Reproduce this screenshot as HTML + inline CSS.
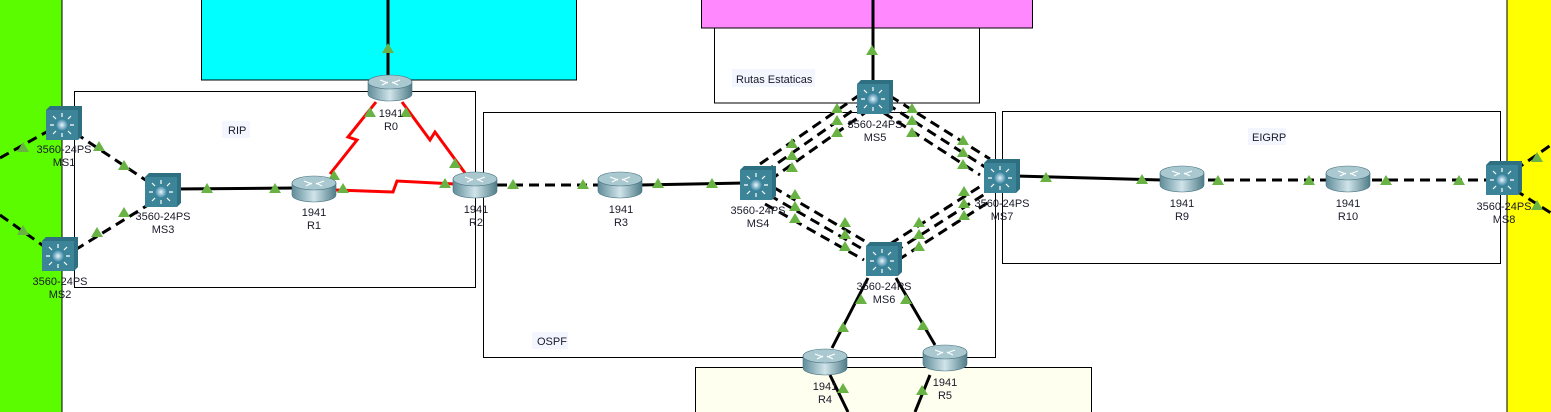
<!DOCTYPE html>
<html><head><meta charset="utf-8"><style>
html,body{margin:0;padding:0;background:#fff;width:1551px;height:412px;overflow:hidden}
svg text{font-family:"Liberation Sans",sans-serif;font-size:11px;fill:#1a1a2a}
</style></head><body>
<svg width="1551" height="412" viewBox="0 0 1551 412" xmlns="http://www.w3.org/2000/svg">
<defs>
<linearGradient id="rg" x1="0" x2="1"><stop offset="0" stop-color="#5f8c99"/><stop offset=".5" stop-color="#d0e4ea"/><stop offset="1" stop-color="#4f7c88"/></linearGradient>
<radialGradient id="bl"><stop offset="0" stop-color="#e8f6ff"/><stop offset="1" stop-color="#2a7a96"/></radialGradient>
<symbol id="rt" viewBox="0 0 44 28" overflow="visible">
<path d="M0 8 V20 A22 7 0 0 0 44 20 V8 Z" fill="url(#rg)" stroke="#4a7480" stroke-width=".6"/>
<ellipse cx="22" cy="8" rx="22" ry="7" fill="#a9c8d0" stroke="#4a7480" stroke-width=".6"/>
<path d="M12 6 L20 9 M32 6 L24 9 M14 11 L20 8 M30 11 L24 8" stroke="#fff" stroke-width="1.2"/>
</symbol>
<symbol id="sw" viewBox="0 0 36 36" overflow="visible">
<path d="M0 4 L4 0 H36 V30 L32 34 Z" fill="#2f6f82"/>
<rect x="0" y="4" width="32" height="30" fill="#3c8599"/>
<circle cx="16" cy="19" r="6.5" fill="url(#bl)"/>
<path d="M16 7 V11 M16 27 V31 M4 19 H8 M24 19 H28 M7 10 L10 13 M25 10 L22 13 M7 28 L10 25 M25 28 L22 25" stroke="#fff" stroke-width="1.2"/>
</symbol>
<symbol id="tr" viewBox="0 0 12 10" overflow="visible"><path d="M6 0 L12 10 H0 Z" fill="#69b345"/></symbol>
</defs>

<rect x="0" y="0" width="62" height="412" fill="#5cfc00"/>
<line x1="62" y1="0" x2="62" y2="412" stroke="#000"/>
<rect x="1507" y="0" width="44" height="412" fill="#ffff00"/>
<line x1="1507" y1="0" x2="1507" y2="412" stroke="#000"/>
<rect x="201.5" y="-1" width="375" height="81" fill="#00ffff" stroke="#000"/>
<rect x="714.5" y="-1" width="265" height="104" fill="#fff" stroke="#000"/>
<rect x="701.5" y="-1" width="331" height="29" fill="#ff88ff" stroke="#000"/>
<rect x="695.5" y="367.5" width="396" height="50" fill="#fffff0" stroke="#000"/>
<rect x="74.5" y="91.5" width="401" height="196" fill="none" stroke="#000"/>
<rect x="483.5" y="112.5" width="512" height="245" fill="none" stroke="#000"/>
<rect x="1002.5" y="111.5" width="498" height="152" fill="none" stroke="#000"/>
<rect x="222" y="121" width="28" height="17" fill="#f4f6ff"/><text x="228" y="134">RIP</text>
<rect x="732" y="69" width="83" height="18" fill="#f4f6ff"/><text x="736" y="83">Rutas Estaticas</text>
<rect x="532" y="332" width="36" height="17" fill="#f4f6ff"/><text x="537" y="345">OSPF</text>
<rect x="1248" y="128" width="38" height="17" fill="#f4f6ff"/><text x="1252" y="141">EIGRP</text>

<g stroke="#000" stroke-width="3" fill="none">
<line x1="388" y1="0" x2="388" y2="76"/>
<line x1="873" y1="0" x2="873" y2="82"/>
<g stroke-dasharray="10,6">
<line x1="0" y1="158" x2="50" y2="130"/>
<line x1="0" y1="215" x2="45" y2="247"/>
<line x1="75" y1="133" x2="150" y2="183"/>
<line x1="75" y1="250" x2="148" y2="205"/>
<line x1="497" y1="185" x2="600" y2="185"/>
<line x1="1208" y1="180" x2="1328" y2="180"/>
<line x1="1372" y1="180" x2="1490" y2="180"/>
<line x1="1515" y1="170" x2="1551" y2="145"/>
<line x1="1515" y1="190" x2="1551" y2="213"/>
<line x1="760" y1="164" x2="858" y2="96"/><line x1="765" y1="172" x2="862" y2="104"/><line x1="770" y1="180" x2="866" y2="112"/>
<line x1="890" y1="96" x2="990" y2="159"/><line x1="887" y1="104" x2="985" y2="167"/><line x1="884" y1="113" x2="980" y2="175"/>
<line x1="773" y1="187" x2="868" y2="243"/><line x1="769" y1="195" x2="866" y2="251"/><line x1="765" y1="204" x2="864" y2="260"/>
<line x1="890" y1="244" x2="984" y2="184"/><line x1="894" y1="252" x2="988" y2="192"/><line x1="898" y1="260" x2="992" y2="200"/>
</g>
<line x1="175" y1="189" x2="295" y2="188"/>
<line x1="640" y1="185" x2="745" y2="183"/>
<line x1="1015" y1="176" x2="1162" y2="180"/>
<line x1="868" y1="278" x2="832" y2="348"/>
<line x1="896" y1="278" x2="935" y2="345"/>
<line x1="830" y1="375" x2="848" y2="412"/>
<line x1="930" y1="375" x2="915" y2="412"/>
</g>
<g stroke="#f00" stroke-width="3" fill="none">
<path d="M330 174 L357 140 L348 137 L376 102"/>
<path d="M402 102 L430 140 L435 132 L465 173"/>
<path d="M336 190 L393 192 L397 181 L455 184"/>
</g>

<g>
<use href="#tr" x="17" y="142" width="12" height="10"/><use href="#tr" x="17" y="225" width="12" height="10"/>
<use href="#tr" x="93" y="141" width="12" height="10"/><use href="#tr" x="118" y="160" width="12" height="10"/>
<use href="#tr" x="118" y="207" width="12" height="10"/><use href="#tr" x="91" y="227" width="12" height="10"/>
<use href="#tr" x="201" y="183" width="12" height="10"/><use href="#tr" x="269" y="183" width="12" height="10"/>
<use href="#tr" x="328" y="170" width="12" height="10"/><use href="#tr" x="337" y="183" width="12" height="10"/>
<use href="#tr" x="364" y="107" width="12" height="10"/><use href="#tr" x="400" y="107" width="12" height="10"/>
<use href="#tr" x="382" y="43" width="12" height="10"/><use href="#tr" x="449" y="158" width="12" height="10"/>
<use href="#tr" x="439" y="178" width="12" height="10"/><use href="#tr" x="507" y="179" width="12" height="10"/>
<use href="#tr" x="577" y="179" width="12" height="10"/><use href="#tr" x="652" y="178" width="12" height="10"/>
<use href="#tr" x="706" y="178" width="12" height="10"/>
<use href="#tr" x="866" y="45" width="12" height="10"/>
<use href="#tr" x="786" y="138" width="12" height="10"/><use href="#tr" x="786" y="150" width="12" height="10"/><use href="#tr" x="786" y="162" width="12" height="10"/>
<use href="#tr" x="831" y="103" width="12" height="10"/><use href="#tr" x="831" y="115" width="12" height="10"/><use href="#tr" x="831" y="127" width="12" height="10"/>
<use href="#tr" x="906" y="103" width="12" height="10"/><use href="#tr" x="906" y="115" width="12" height="10"/><use href="#tr" x="906" y="127" width="12" height="10"/>
<use href="#tr" x="957" y="135" width="12" height="10"/><use href="#tr" x="957" y="147" width="12" height="10"/><use href="#tr" x="957" y="159" width="12" height="10"/>
<use href="#tr" x="789" y="189" width="12" height="10"/><use href="#tr" x="789" y="201" width="12" height="10"/><use href="#tr" x="789" y="213" width="12" height="10"/>
<use href="#tr" x="839" y="217" width="12" height="10"/><use href="#tr" x="839" y="229" width="12" height="10"/><use href="#tr" x="839" y="241" width="12" height="10"/>
<use href="#tr" x="913" y="217" width="12" height="10"/><use href="#tr" x="913" y="229" width="12" height="10"/><use href="#tr" x="913" y="241" width="12" height="10"/>
<use href="#tr" x="958" y="186" width="12" height="10"/><use href="#tr" x="958" y="198" width="12" height="10"/><use href="#tr" x="958" y="210" width="12" height="10"/>
<use href="#tr" x="855" y="294" width="12" height="10"/><use href="#tr" x="837" y="322" width="12" height="10"/>
<use href="#tr" x="900" y="294" width="12" height="10"/><use href="#tr" x="917" y="320" width="12" height="10"/>
<use href="#tr" x="837" y="383" width="12" height="10"/><use href="#tr" x="916" y="385" width="12" height="10"/>
<use href="#tr" x="1040" y="172" width="12" height="10"/><use href="#tr" x="1136" y="174" width="12" height="10"/>
<use href="#tr" x="1212" y="175" width="12" height="10"/><use href="#tr" x="1303" y="175" width="12" height="10"/>
<use href="#tr" x="1380" y="175" width="12" height="10"/><use href="#tr" x="1453" y="175" width="12" height="10"/>
<use href="#tr" x="1531" y="152" width="12" height="10"/><use href="#tr" x="1531" y="200" width="12" height="10"/>
</g>

<use href="#sw" x="46" y="106" width="36" height="36"/>
<use href="#sw" x="42" y="237" width="36" height="36"/>
<use href="#sw" x="145" y="173" width="36" height="36"/>
<use href="#rt" x="292" y="175" width="44" height="28"/>
<use href="#rt" x="368" y="74" width="44" height="28"/>
<use href="#rt" x="453" y="171" width="44" height="28"/>
<use href="#rt" x="598" y="171" width="44" height="28"/>
<use href="#sw" x="740" y="166" width="36" height="36"/>
<use href="#sw" x="857" y="80" width="36" height="36"/>
<use href="#sw" x="866" y="242" width="36" height="36"/>
<use href="#sw" x="984" y="159" width="36" height="36"/>
<use href="#rt" x="1160" y="165" width="44" height="28"/>
<use href="#rt" x="1326" y="165" width="44" height="28"/>
<use href="#sw" x="1486" y="161" width="36" height="36"/>
<use href="#rt" x="803" y="348" width="44" height="28"/>
<use href="#rt" x="923" y="344" width="44" height="28"/>

<g text-anchor="middle">
<text x="64" y="153">3560-24PS</text><text x="64" y="166">MS1</text>
<text x="60" y="285">3560-24PS</text><text x="60" y="298">MS2</text>
<text x="163" y="220">3560-24PS</text><text x="163" y="233">MS3</text>
<text x="314" y="216">1941</text><text x="314" y="229">R1</text>
<text x="391" y="117">1941</text><text x="391" y="130">R0</text>
<text x="476" y="213">1941</text><text x="476" y="226">R2</text>
<text x="621" y="213">1941</text><text x="621" y="226">R3</text>
<text x="758" y="214">3560-24PS</text><text x="758" y="227">MS4</text>
<text x="875" y="128">3560-24PS</text><text x="875" y="141">MS5</text>
<text x="884" y="290">3560-24PS</text><text x="884" y="303">MS6</text>
<text x="1002" y="207">3560-24PS</text><text x="1002" y="220">MS7</text>
<text x="1182" y="207">1941</text><text x="1182" y="220">R9</text>
<text x="1348" y="207">1941</text><text x="1348" y="220">R10</text>
<text x="1504" y="210">3560-24PS</text><text x="1504" y="223">MS8</text>
<text x="825" y="390">1941</text><text x="825" y="403">R4</text>
<text x="945" y="386">1941</text><text x="945" y="399">R5</text>
</g>
</svg>
</body></html>
